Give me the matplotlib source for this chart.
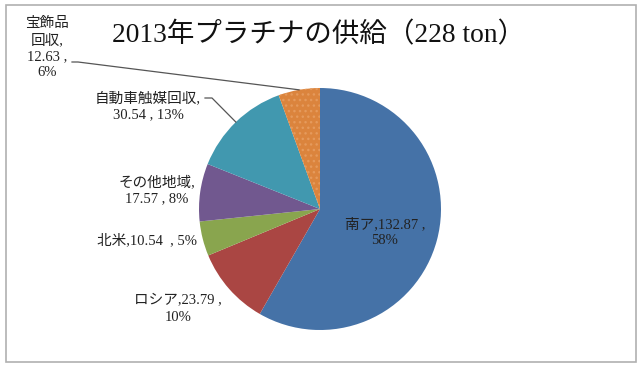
import matplotlib.pyplot as plt
from matplotlib.patches import Rectangle
import numpy as np

# data (ton), 2013 platinum supply
names = ['南ア', 'ロシア', '北米', 'その他地域', '自動車触媒回収', '宝飾品\n回収']
values = [132.87, 23.79, 10.54, 17.57, 30.54, 12.63]
colors = ['#4572A7', '#AA4643', '#89A54E', '#71588F', '#4198AF', '#DB843D']
label_fmt = ['{n},{v} ,\n{p}%', '{n},{v} ,\n{p}%', '{n},{v}  , {p}%',
             '{n},\n{v} , {p}%', '{n},\n{v} , {p}%', '{n},\n{v} ,\n{p}%']
title = '2013年プラチナの供給（228 ton）'

fonts = ['Liberation Serif', 'Noto Sans CJK JP', 'DejaVu Sans']
plt.rcParams['font.family'] = fonts

W, H = 640, 368
Y = lambda y: H - y   # pixel coords from top

fig = plt.figure(figsize=(6.4, 3.68), dpi=100)
ax = fig.add_axes([0, 0, 1, 1])

cx, cy, r = 320, 209, 121
wedges, _ = ax.pie(values, colors=colors, startangle=90, counterclock=False,
                   center=(cx, Y(cy)), radius=r, frame=True,
                   wedgeprops=dict(linewidth=0))
# dotted texture on the orange slice
plt.rcParams['hatch.linewidth'] = 0.5
wedges[5].set_hatch('...')
wedges[5].set_edgecolor('#E59A5C')
wedges[5].set_linewidth(0)

ax.set_xlim(0, W)
ax.set_ylim(0, H)
ax.set_aspect('equal')
ax.axis('off')

# outer frame
ax.add_patch(Rectangle((6, Y(362)), 630, 357, fill=False, edgecolor='#B0B0B0', lw=1.2))

total = sum(values)
texts = [f.format(n=n, v=f'{v:.2f}', p=round(v / total * 100))
         for f, n, v in zip(label_fmt, names, values)]

label_pos = [(385, 232), (178, 309), (147, 240), (157, 190), (148, 106), (47, 48)]
for t, (x, y) in zip(texts, label_pos):
    ax.text(x, Y(y), t, ha='center', va='center', fontsize=10.5,
            linespacing=1.3, color='#222222')

# leader lines for the two small top slices
for i, (x0, y0), (x1, y1) in [(5, (72, 62), (78, 62)), (4, (205, 98), (212, 98))]:
    w = wedges[i]
    a = np.deg2rad((w.theta1 + w.theta2) / 2)
    ex, ey = cx + r * np.cos(a), Y(cy) + r * np.sin(a)
    ax.plot([x0, x1, ex], [Y(y0), Y(y1), ey], color='#555555', lw=0.9)

ax.text(319, Y(35), title, ha='center', va='center', fontsize=19.8, color='#111111')

fig.savefig('out.png', dpi=100)
